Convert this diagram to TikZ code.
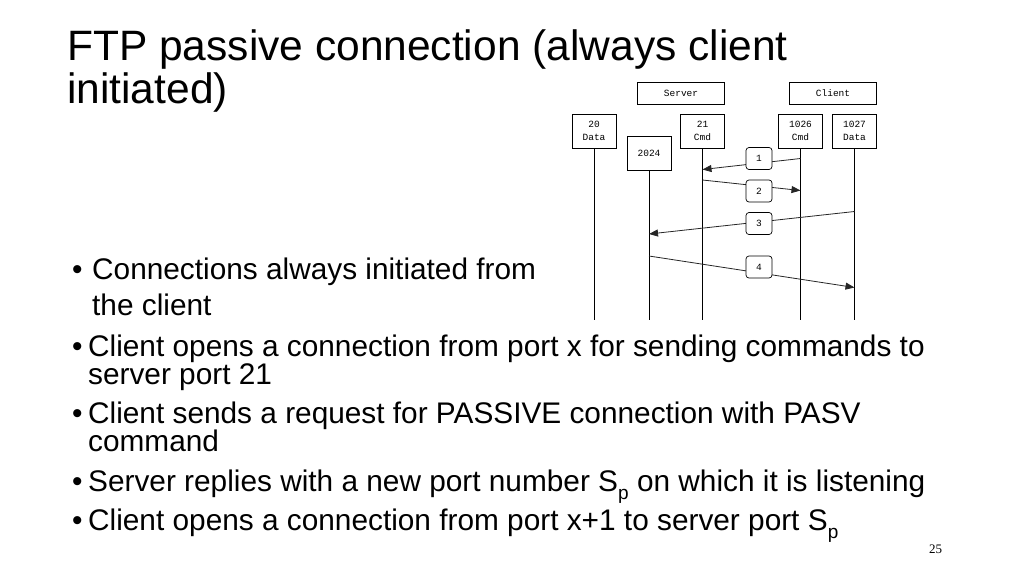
\documentclass[tikz,border=0pt]{standalone}
\usepackage{fontspec}
\setmainfont{Liberation Sans}
\newfontfamily\monofnt{Liberation Mono}
\newfontfamily\serifnt{Liberation Serif}
\usetikzlibrary{arrows.meta}
\newcommand{\subp}{\raisebox{-0.3em}{\fontsize{19}{19}\selectfont p}}
\begin{document}
\begin{tikzpicture}[x=1pt,y=-1pt,
  title/.style={anchor=base west,inner sep=0pt,font=\fontsize{42.5}{43}\selectfont},
  body/.style={anchor=base west,inner sep=0pt,font=\fontsize{29.8}{29}\selectfont},
  hostbox/.style={draw,line width=0.7pt,minimum width=87pt,minimum height=22pt,inner sep=0pt,font=\monofnt\fontsize{9.5}{10}\selectfont},
  portbox/.style={draw,line width=0.7pt,minimum width=44pt,minimum height=34pt,inner sep=0pt,align=center,font=\monofnt\fontsize{9.5}{13}\selectfont},
  lifeline/.style={line width=0.8pt},
  msg/.style={line width=0.8pt,draw=black!85,-{Triangle[length=9pt,width=7pt]}},
  numbox/.style={draw,fill=white,rounded corners=3pt,line width=0.7pt,minimum width=26pt,minimum height=22pt,inner sep=0pt,font=\monofnt\fontsize{9.5}{10}\selectfont}]
\useasboundingbox (0,0) rectangle (1024,576);
% title
\node[title] (t1) at (67,60) {FTP passive connection (always client};
\node[title] (t2) at (67,103) {initiated)};
% hosts
\node[hostbox] (server) at (681,93) {Server};
\node[hostbox] (client) at (833,93) {Client};
% ports
\node[portbox] (p20) at (594,131) {20\\Data};
\node[portbox] (p2024) at (649,153) {2024};
\node[portbox] (p21) at (702.5,131) {21\\Cmd};
\node[portbox] (p1026) at (800.5,131) {1026\\Cmd};
\node[portbox] (p1027) at (854.5,131) {1027\\Data};
% lifeline ends
\coordinate (e20) at (594,320);
\coordinate (e2024) at (649,320);
\coordinate (e21) at (702.5,320);
\coordinate (e1026) at (800.5,320);
\coordinate (e1027) at (854.5,320);
\draw[lifeline] (p20.south) -- (e20);
\draw[lifeline] (p2024.south) -- (e2024);
\draw[lifeline] (p21.south) -- (e21);
\draw[lifeline] (p1026.south) -- (e1026);
\draw[lifeline] (p1027.south) -- (e1027);
% message points
\coordinate (a1) at (800.5,158.5);
\coordinate (b1) at (702.5,169.5);
\coordinate (a2) at (702.5,180);
\coordinate (b2) at (800.5,190.5);
\coordinate (a3) at (854.5,211.5);
\coordinate (b3) at (649,234);
\coordinate (a4) at (649,256);
\coordinate (b4) at (854.5,287.5);
\draw[msg] (a1) -- (b1);
\draw[msg] (a2) -- (b2);
\draw[msg] (a3) -- (b3);
\draw[msg] (a4) -- (b4);
\node[numbox] (n1) at (759,158.5) {1};
\node[numbox] (n2) at (759,191) {2};
\node[numbox] (n3) at (759,223.5) {3};
\node[numbox] (n4) at (759,267) {4};
% bullets
\node[body] (b1a) at (72,279) {\hbox to 20pt{\textbullet\hfil}Connections always initiated from};
\node[body] (b1b) at (92,315) {the client};
\node[body] (b2a) at (72,356) {\hbox to 16pt{\textbullet\hfil}Client opens a connection from port x for sending commands to};
\node[body] (b2b) at (88,384) {server port 21};
\node[body] (b3a) at (72,423) {\hbox to 16pt{\textbullet\hfil}Client sends a request for PASSIVE connection with PASV};
\node[body] (b3b) at (88,451) {command};
\node[body] (b4a) at (72,491) {\hbox to 16pt{\textbullet\hfil}Server replies with a new port number S\subp{} on which it is listening};
\node[body] (b5a) at (72,530) {\hbox to 16pt{\textbullet\hfil}Client opens a connection from port x+1 to server port S\subp};
\node[anchor=base west,inner sep=0pt,font=\serifnt\fontsize{13}{13}\selectfont] (pg) at (929,553) {25};
\end{tikzpicture}
\end{document}
